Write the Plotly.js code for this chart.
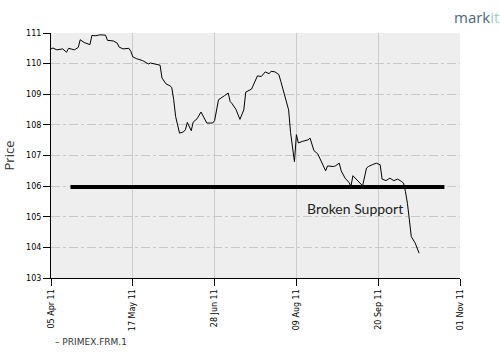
<!DOCTYPE html>
<html>
<head>
<meta charset="utf-8">
<script src="https://cdn.plot.ly/plotly-3.0.1.min.js"></script>
<style>html,body{margin:0;padding:0;background:#fff;}#chart{width:500px;height:360px;}</style>
</head>
<body>
<div id="chart"></div>
<script>
const dates = [
 "2011-04-05","2011-04-06","2011-04-08","2011-04-11","2011-04-13","2011-04-14","2011-04-17","2011-04-19","2011-04-20","2011-04-22",
 "2011-04-25","2011-04-26","2011-04-28","2011-04-30","2011-05-03","2011-05-04","2011-05-07","2011-05-09","2011-05-10","2011-05-12",
 "2011-05-15","2011-05-16","2011-05-17","2011-05-19","2011-05-22","2011-05-24","2011-05-25","2011-05-26","2011-05-29","2011-05-31",
 "2011-06-01","2011-06-03","2011-06-05","2011-06-06","2011-06-07","2011-06-08","2011-06-10","2011-06-12","2011-06-13","2011-06-14",
 "2011-06-16","2011-06-17","2011-06-19","2011-06-21","2011-06-24","2011-06-27","2011-06-28","2011-06-30","2011-07-03","2011-07-05",
 "2011-07-06","2011-07-07","2011-07-09","2011-07-11","2011-07-13","2011-07-14","2011-07-17","2011-07-19","2011-07-20","2011-07-22",
 "2011-07-24","2011-07-26","2011-07-27","2011-07-29","2011-07-31","2011-08-01","2011-08-02","2011-08-03","2011-08-04","2011-08-05",
 "2011-08-06","2011-08-07","2011-08-08","2011-08-09","2011-08-10","2011-08-12","2011-08-15","2011-08-16","2011-08-17","2011-08-18",
 "2011-08-20","2011-08-21","2011-08-23","2011-08-24","2011-08-25","2011-08-28","2011-08-29","2011-08-31","2011-09-01","2011-09-02",
 "2011-09-03","2011-09-05","2011-09-06","2011-09-07","2011-09-09","2011-09-12","2011-09-14","2011-09-15","2011-09-17","2011-09-19",
 "2011-09-21","2011-09-22","2011-09-24","2011-09-26","2011-09-28","2011-09-30","2011-10-02","2011-10-03","2011-10-04","2011-10-05",
 "2011-10-06","2011-10-07","2011-10-09","2011-10-11"
];
const prices = [
 110.48,110.51,110.45,110.48,110.37,110.50,110.45,110.53,110.78,110.69,
 110.62,110.92,110.91,110.94,110.93,110.76,110.74,110.67,110.54,110.48,
 110.50,110.40,110.22,110.16,110.10,110.04,109.99,110.02,109.97,109.95,
 109.53,109.34,109.28,109.22,108.82,108.27,107.73,107.77,107.84,108.08,
 107.81,108.09,108.20,108.42,108.06,108.06,108.14,108.82,108.95,109.04,
 108.76,108.69,108.50,108.18,108.49,109.07,109.17,109.50,109.60,109.58,
 109.73,109.67,109.75,109.73,109.64,109.42,109.20,108.98,108.70,108.49,
 107.75,107.20,106.80,107.68,107.41,107.46,107.51,107.57,107.35,107.16,
 107.05,106.92,106.66,106.50,106.66,106.64,106.66,106.75,106.50,106.40,
 106.26,106.12,105.99,106.34,106.20,106.01,106.59,106.64,106.70,106.75,
 106.70,106.23,106.18,106.26,106.18,106.23,106.15,106.10,105.82,105.44,
 104.90,104.35,104.14,103.81
];
const supportDates = ["2011-04-15","2011-10-24"];
const supportLevel = [105.97,105.97];
const supportLabel = "Broken Support";
const seriesName = "PRIMEX.FRM.1";
const xTickVals = ["2011-04-05","2011-05-17","2011-06-28","2011-08-09","2011-09-20","2011-11-01"];
const xTickText = ["05 Apr 11","17 May 11","28 Jun 11","09 Aug 11","20 Sep 11","01 Nov 11"];
const yTickVals = [103,104,105,106,107,108,109,110,111];

const traces = [
 {x: dates, y: prices, type: "scatter", mode: "lines", name: seriesName,
  line: {color: "#000", width: 1}, showlegend: false, hoverinfo: "x+y"},
 {x: supportDates, y: supportLevel, type: "scatter", mode: "lines", name: supportLabel,
  line: {color: "#000", width: 4}, showlegend: false, hoverinfo: "skip"}
];

const tickFont = {family: "DejaVu Sans", size: 8, color: "#000"};
const layout = {
 width: 500, height: 360,
 margin: {l: 51, r: 40, t: 33, b: 82, pad: 0},
 paper_bgcolor: "#ffffff",
 plot_bgcolor: "#eeeeee",
 showlegend: false,
 xaxis: {
  type: "date", range: ["2011-04-05","2011-11-01"],
  tickvals: xTickVals, ticktext: xTickText, tickangle: -90,
  tickfont: tickFont, ticks: "outside", ticklen: 7, tickcolor: "#000",
  showline: true, linecolor: "#000", linewidth: 1,
  showgrid: true, gridcolor: "#cccccc", gridwidth: 1,
  zeroline: false, fixedrange: true
 },
 yaxis: {
  range: [103,111], tickvals: yTickVals,
  tickfont: tickFont, ticks: "outside", ticklen: 7, tickcolor: "#000",
  showline: true, linecolor: "#000", linewidth: 1,
  showgrid: true, gridcolor: "#c8c8c8", gridwidth: 1, griddash: "dashdot",
  zeroline: false, fixedrange: true,
  title: {text: "Price", font: {family: "Open Sans", size: 13, color: "#333"}, standoff: 9}
 },
 annotations: [
  {xref: "x", yref: "y", x: "2011-09-08", y: 105.28, text: supportLabel, showarrow: false,
   font: {family: "Lato", size: 14, color: "#222"}},
  {xref: "paper", yref: "paper", x: 0.005, y: -0.262, xanchor: "left", yanchor: "middle",
   text: "\u2013 " + seriesName, showarrow: false,
   font: {family: "DejaVu Sans", size: 9, color: "#333"}},
  {xref: "paper", yref: "paper", x: 1.1, y: 1.065, xanchor: "right", yanchor: "middle",
   text: "<span style='color:#4a6878'>mark</span><span style='color:#9ccbd3'>it</span>",
   showarrow: false, font: {family: "Open Sans", size: 15, color: "#4a6878"}}
 ]
};

Plotly.newPlot("chart", traces, layout, {displayModeBar: false, staticPlot: true});
</script>
</body>
</html>
